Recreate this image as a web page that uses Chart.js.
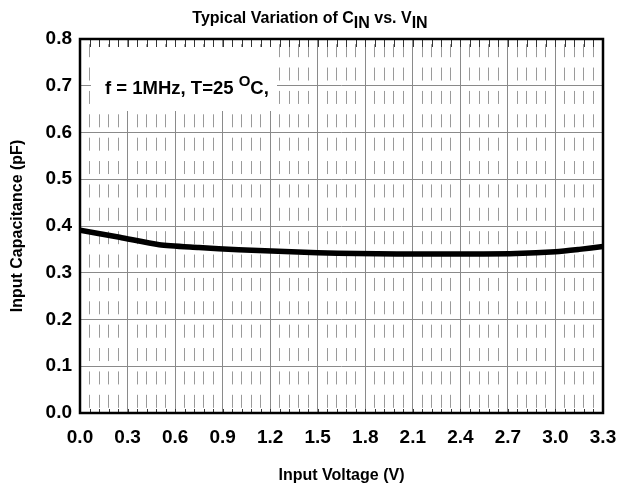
<!DOCTYPE html>
<html>
<head>
<meta charset="utf-8">
<script src="https://cdn.jsdelivr.net/npm/chart.js@4.4.0/dist/chart.umd.min.js"></script>
<style>
  html, body { margin: 0; padding: 0; background: #fff; }
  #wrap { width: 619px; height: 489px; }
</style>
</head>
<body>
<div id="wrap"><canvas id="capChart" width="619" height="489"></canvas></div>
<script>
// chart values
var voltage = [0, 0.25, 0.5, 0.75, 1.0, 1.25, 1.5, 1.75, 2.0, 2.25, 2.5, 2.75, 3.0, 3.15, 3.3];
var capacitance = [0.391, 0.376, 0.360, 0.354, 0.349, 0.346, 0.343, 0.341, 0.340, 0.340, 0.340, 0.341, 0.345, 0.350, 0.356];
var xTicks = ['0.0', '0.3', '0.6', '0.9', '1.2', '1.5', '1.8', '2.1', '2.4', '2.7', '3.0', '3.3'];
var yTicks = ['0.0', '0.1', '0.2', '0.3', '0.4', '0.5', '0.6', '0.7', '0.8'];

var FONT = "'Liberation Sans', Arial, sans-serif";

// draws a run of text pieces (for sub/superscripts)
function drawRuns(ctx, runs, x, y, align) {
  var total = 0;
  runs.forEach(function (r) { ctx.font = r.font; total += ctx.measureText(r.text).width; });
  var cx = align === 'center' ? x - total / 2 : x;
  ctx.textBaseline = 'alphabetic';
  ctx.textAlign = 'left';
  runs.forEach(function (r) {
    ctx.font = r.font;
    ctx.fillText(r.text, cx, y + (r.dy || 0));
    cx += ctx.measureText(r.text).width;
  });
}

var decorPlugin = {
  id: 'decor',
  beforeDatasetsDraw: function (chart) {
    var ctx = chart.ctx, a = chart.chartArea;
    // white box behind the note
    ctx.save();
    ctx.fillStyle = '#fff';
    ctx.fillRect(a.left + 11, a.top + 8, 186, 64);
    ctx.fillStyle = '#000';
    var b = 'bold 18.5px ' + FONT;
    drawRuns(ctx, [
      { text: 'f = 1MHz, T=25 ', font: b },
      { text: 'O', font: 'bold 15px ' + FONT, dy: -8 },
      { text: 'C,', font: b }
    ], a.left + 25, 94, 'left');
    ctx.restore();
  },
  afterDraw: function (chart) {
    var ctx = chart.ctx, a = chart.chartArea;
    ctx.save();
    // small inner ticks on top and bottom edges
    var xs = chart.scales.x;
    ctx.strokeStyle = '#333';
    ctx.lineWidth = 1;
    for (var i = 0; i <= 55; i++) {
      var px = Math.round(xs.getPixelForValue(i * 0.06)) + 0.5;
      ctx.beginPath();
      ctx.moveTo(px, a.top); ctx.lineTo(px, a.top + 8);
      ctx.moveTo(px, a.bottom); ctx.lineTo(px, a.bottom - 4);
      ctx.stroke();
    }
    // frame
    ctx.strokeStyle = '#000';
    ctx.lineWidth = 2.5;
    ctx.strokeRect(a.left, a.top, a.right - a.left, a.bottom - a.top);
    // title with subscripts
    ctx.fillStyle = '#000';
    var t = 'bold 16px ' + FONT;
    drawRuns(ctx, [
      { text: 'Typical Variation of C', font: t },
      { text: 'IN', font: t, dy: 5 },
      { text: ' vs. V', font: t },
      { text: 'IN', font: t, dy: 5 }
    ], 310, 23, 'center');
    ctx.restore();
  }
};

var ctx = document.getElementById('capChart').getContext('2d');
var points = voltage.map(function (v, i) { return { x: v, y: capacitance[i] }; });

function noSidePad(s) { s.paddingLeft = 0; s.paddingRight = 0; }

var capChart = new Chart(ctx, {
  type: 'line',
  data: {
    datasets: [{
      data: points,
      borderColor: '#000',
      borderWidth: 5.5,
      pointRadius: 0,
      tension: 0.25,
      fill: false
    }]
  },
  options: {
    responsive: false,
    animation: false,
    events: [],
    layout: { padding: { top: 39, right: 16, left: 0, bottom: 0 } },
    plugins: { legend: { display: false }, tooltip: { enabled: false } },
    scales: {
      xMinor: {
        type: 'linear',
        position: 'bottom',
        min: 0, max: 3.3,
        ticks: { display: false, stepSize: 0.06 },
        grid: {
          drawTicks: false,
          color: function (c) {
            var v = c.tick ? c.tick.value : 0;
            return Math.abs(v / 0.3 - Math.round(v / 0.3)) < 1e-6 ? 'rgba(0,0,0,0)' : '#9a9a9a';
          },
          lineWidth: 1
        },
        border: { display: false, dash: [13, 10.375], dashOffset: 18.2 },
        afterFit: function (s) { s.height = 0; noSidePad(s); }
      },
      x: {
        type: 'linear',
        min: 0, max: 3.3,
        afterBuildTicks: function (s) {
          s.ticks = xTicks.map(function (t) { return { value: parseFloat(t) }; });
        },
        ticks: {
          color: '#000',
          font: { family: FONT, size: 19, weight: 'bold' },
          padding: 13,
          maxRotation: 0,
          autoSkip: false,
          callback: function (v) { return v.toFixed(1); }
        },
        grid: { drawTicks: false, color: '#8a8a8a', lineWidth: 1 },
        border: { display: false },
        title: {
          display: true,
          text: 'Input Voltage (V)',
          color: '#000',
          font: { family: FONT, size: 16, weight: 'bold' },
          padding: { top: 4, bottom: 4 }
        },
        afterFit: function (s) { s.height = 76; noSidePad(s); }
      },
      y: {
        type: 'linear',
        min: 0, max: 0.8,
        afterBuildTicks: function (s) {
          s.ticks = yTicks.map(function (t) { return { value: parseFloat(t) }; });
        },
        ticks: {
          color: '#000',
          font: { family: FONT, size: 19, weight: 'bold' },
          padding: 8,
          callback: function (v) { return v.toFixed(1); }
        },
        grid: { drawTicks: false, color: '#8a8a8a', lineWidth: 1 },
        border: { display: false },
        title: {
          display: true,
          text: 'Input Capacitance (pF)',
          color: '#000',
          font: { family: FONT, size: 16, weight: 'bold' },
          padding: { top: 8, bottom: 0 }
        },
        afterFit: function (s) { s.width = 80; s.paddingTop = 0; s.paddingBottom = 0; }
      }
    }
  },
  plugins: [decorPlugin]
});
</script>
</body>
</html>
